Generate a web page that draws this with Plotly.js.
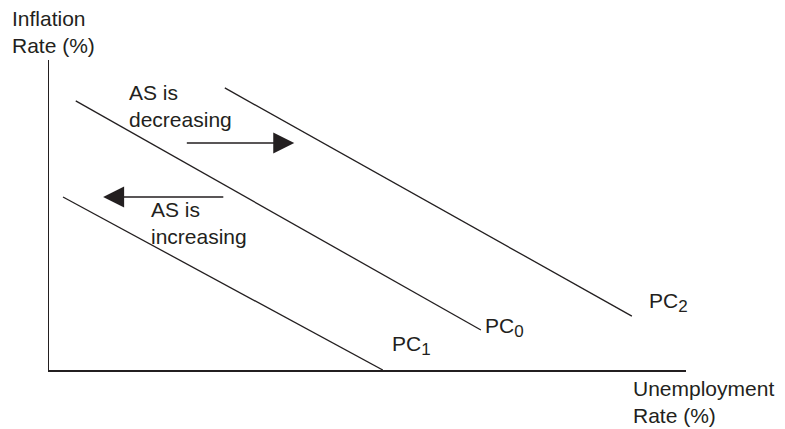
<!DOCTYPE html>
<html>
<head>
<meta charset="utf-8">
<script src="https://cdn.plot.ly/plotly-3.0.1.min.js"></script>
<style>
  html, body { margin: 0; padding: 0; background: #fff; }
  #chart { width: 785px; height: 429px; }
</style>
</head>
<body>
<div id="chart"></div>
<script>
// Phillips curves (schematic units, axes 0..10)
var pc1X = [0.22, 5.24];
var pc1Y = [5.58, 0];
var pc0X = [0.42, 6.78];
var pc0Y = [8.68, 1.29];
var pc2X = [2.76, 9.15];
var pc2Y = [9.10, 1.74];

// arrows: [tail, tip]
var decArrowX = [2.14, 3.85];
var decArrowY = [7.32, 7.32];
var incArrowX = [2.76, 0.85];
var incArrowY = [5.58, 5.58];

var curveNames = ['PC', 'PC', 'PC'];
var curveSubs = ['1', '0', '2'];
var ink = '#231f20';
var txtFont = { family: 'Liberation Sans, Arial, sans-serif', size: 21, color: ink };

function curve(x, y, name) {
    return {
        x: x,
        y: y,
        name: name,
        type: 'scatter',
        mode: 'lines',
        line: { color: ink, width: 1.3 },
        hoverinfo: 'skip'
    };
}

var data = [
    curve(pc1X, pc1Y, 'PC1'),
    curve(pc0X, pc0Y, 'PC0'),
    curve(pc2X, pc2Y, 'PC2')
];

function arrow(xs, ys) {
    return {
        x: xs[1], y: ys[1], ax: xs[0], ay: ys[0],
        xref: 'x', yref: 'y', axref: 'x', ayref: 'y',
        text: '', showarrow: true,
        arrowhead: 2, arrowsize: 2.8, arrowwidth: 1.5, arrowcolor: ink,
        standoff: 0, startstandoff: 0
    };
}

function label(text, x, y, ref) {
    return {
        text: text, x: x, y: y,
        xref: ref || 'x', yref: ref ? 'paper' : 'y',
        xanchor: 'left', yanchor: 'top', align: 'left',
        showarrow: false, font: txtFont
    };
}

function pcLabel(i) {
    return curveNames[i] + '<sub><span style="font-size:17px">' + curveSubs[i] + '</span></sub>';
}

var unempLabel = label('Unemployment<br>Rate (%)', 0.9168, -0.0226, 'paper');
unempLabel.borderpad = 0;
unempLabel.borderwidth = 0;

var layout = {
    width: 785,
    height: 429,
    margin: { l: 49, r: 99, t: 60, b: 59 },
    paper_bgcolor: '#fff',
    plot_bgcolor: '#fff',
    showlegend: false,
    font: txtFont,
    xaxis: {
        range: [0, 10], showline: true, linecolor: ink, linewidth: 1.5,
        showgrid: false, zeroline: false, showticklabels: false, ticks: '', fixedrange: true
    },
    yaxis: {
        range: [0, 10], showline: true, linecolor: ink, linewidth: 1.5,
        showgrid: false, zeroline: false, showticklabels: false, ticks: '', fixedrange: true
    },
    annotations: [
        arrow(decArrowX, decArrowY),
        arrow(incArrowX, incArrowY),
        label('AS is<br>decreasing', 1.22, 9.39),
        label('AS is<br>increasing', 1.57, 5.61),
        label(pcLabel(2), 9.39, 2.68),
        label(pcLabel(1), 6.81, 1.87),
        label(pcLabel(0), 5.35, 1.29),
        label('Inflation<br>Rate (%)', -0.0612, 1.177, 'paper'),
        unempLabel
    ]
};

Plotly.newPlot('chart', data, layout, { displayModeBar: false, staticPlot: true });
</script>
</body>
</html>
